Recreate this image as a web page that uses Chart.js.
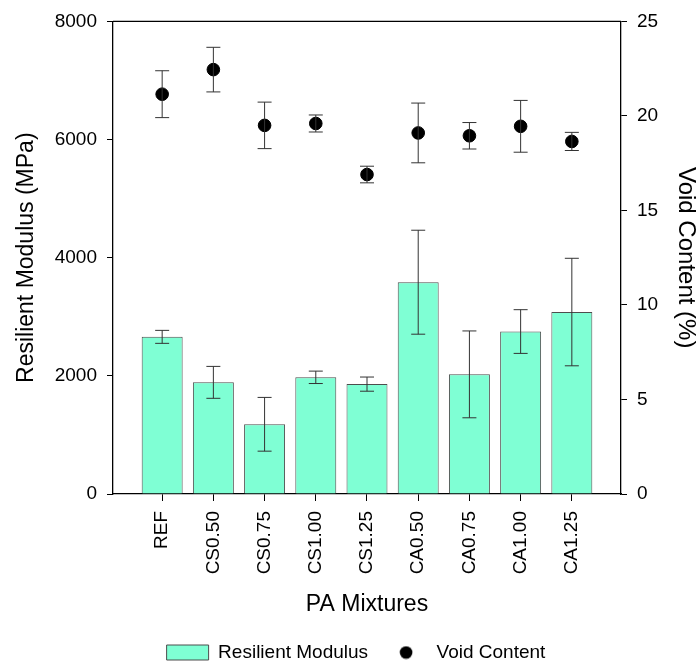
<!DOCTYPE html>
<html>
<head>
<meta charset="utf-8">
<script src="https://cdn.jsdelivr.net/npm/chart.js@4"></script>
<style>
    body { margin: 0; background: #fff; }
</style>
</head>
<body>
<canvas id="chart" width="700" height="666"></canvas>
<script>
const mixtures = ['REF', 'CS0.50', 'CS0.75', 'CS1.00', 'CS1.25', 'CA0.50', 'CA0.75', 'CA1.00', 'CA1.25']
const modulus = [2660, 1890, 1180, 1975, 1860, 3585, 2025, 2750, 3080]
const modulusSd = [110, 270, 455, 105, 120, 880, 735, 370, 910]
const voids = [21.15, 22.45, 19.5, 19.6, 16.9, 19.1, 18.95, 19.45, 18.65]
const voidsSd = [1.24, 1.18, 1.23, 0.45, 0.44, 1.58, 0.7, 1.37, 0.48]
const modulusTicks = [0, 2000, 4000, 6000, 8000]
const voidTicks = [0, 5, 10, 15, 20, 25]

class App {
    constructor() {
        Chart.defaults.font.family = 'Liberation Sans, Arial, sans-serif'
        Chart.defaults.color = '#000'
        const ctx = document.getElementById('chart').getContext('2d')
        this.drawChart(ctx)
    }

    // black dot used as the legend marker of the void series
    makeDot() {
        const c = document.createElement('canvas')
        c.width = 14
        c.height = 14
        const g = c.getContext('2d')
        g.fillStyle = '#000'
        g.beginPath()
        g.arc(7, 7, 6.3, 0, Math.PI * 2)
        g.fill()
        return c
    }

    drawChart(ctx) {
        const dot = this.makeDot()
        const tickFont = { size: 19 }
        const titleFont = { size: 23 }

        const errorBars = {
            id: 'errorBars',
            afterDatasetsDraw(chart) {
                const c = chart.ctx
                const x = chart.scales.x
                const draw = (scale, values, sds) => {
                    values.forEach((v, i) => {
                        const px = x.getPixelForValue(i)
                        const top = scale.getPixelForValue(v + sds[i])
                        const bot = scale.getPixelForValue(v - sds[i])
                        c.beginPath()
                        c.moveTo(px, top)
                        c.lineTo(px, bot)
                        c.moveTo(px - 7, top)
                        c.lineTo(px + 7, top)
                        c.moveTo(px - 7, bot)
                        c.lineTo(px + 7, bot)
                        c.stroke()
                    })
                }
                c.save()
                c.strokeStyle = '#333'
                c.lineWidth = 1
                draw(chart.scales.y, modulus, modulusSd)
                draw(chart.scales.y1, voids, voidsSd)
                c.restore()
            }
        }

        const frameTop = {
            id: 'frameTop',
            afterDraw(chart) {
                const { left, right, top } = chart.chartArea
                const c = chart.ctx
                c.save()
                c.strokeStyle = '#000'
                c.lineWidth = 1.3
                c.beginPath()
                c.moveTo(left, top)
                c.lineTo(right, top)
                c.stroke()
                c.restore()
            }
        }

        const data = {
            datasets: [{
                type: 'line',
                label: 'Void Content',
                data: voids.map((v, i) => ({ x: i, y: v })),
                yAxisID: 'y1',
                showLine: false,
                pointRadius: 6.3,
                pointBackgroundColor: '#000',
                pointBorderColor: '#000',
                borderColor: '#000',
                backgroundColor: '#000',
                order: 1
            }, {
                type: 'bar',
                label: 'Resilient Modulus',
                data: modulus.map((v, i) => ({ x: i, y: v })),
                yAxisID: 'y',
                backgroundColor: '#7fffd4',
                borderColor: '#4d4d4d',
                borderWidth: 1,
                barPercentage: 1,
                categoryPercentage: 0.8,
                order: 2
            }]
        }

        const config = {
            type: 'bar',
            data: data,
            options: {
                responsive: false,
                animation: false,
                layout: { padding: { top: 20, bottom: -6, left: 12, right: 0 } },
                plugins: {
                    tooltip: { enabled: false },
                    legend: {
                        position: 'bottom',
                        reverse: true,
                        labels: {
                            usePointStyle: true,
                            pointStyleWidth: 42,
                            boxHeight: 15,
                            padding: 17,
                            font: { size: 19 },
                            generateLabels(chart) {
                                const items = Chart.defaults.plugins.legend.labels.generateLabels(chart)
                                items.forEach(it => {
                                    it.pointStyle = it.text === 'Void Content' ? dot : 'rect'
                                })
                                return items
                            }
                        }
                    }
                },
                scales: {
                    x: {
                        type: 'linear',
                        min: -0.96,
                        max: 8.96,
                        offset: false,
                        afterBuildTicks: axis => { axis.ticks = mixtures.map((_, i) => ({ value: i })) },
                        afterFit: axis => { axis.height = 132 },
                        ticks: {
                            autoSkip: false,
                            minRotation: 90,
                            maxRotation: 90,
                            padding: 10,
                            font: tickFont,
                            callback: v => mixtures[v]
                        },
                        grid: { display: true, offset: false, drawOnChartArea: false, drawTicks: true, tickLength: 7, color: '#000' },
                        border: { display: true, color: '#000', width: 1.3 },
                        title: { display: true, text: 'PA Mixtures', font: titleFont, padding: { top: 0, bottom: 8 } }
                    },
                    y: {
                        position: 'left',
                        min: 0,
                        max: 8000,
                        afterBuildTicks: axis => { axis.ticks = modulusTicks.map(v => ({ value: v })) },
                        afterFit: axis => { axis.width = 101 },
                        ticks: { padding: 10, font: tickFont, callback: v => String(v) },
                        grid: { drawOnChartArea: false, drawTicks: true, tickLength: 6, color: '#000' },
                        border: { display: true, color: '#000', width: 1.3 },
                        title: { display: true, text: 'Resilient Modulus (MPa)', font: titleFont, padding: { top: 1, bottom: 0 } }
                    },
                    y1: {
                        position: 'right',
                        min: 0,
                        max: 25,
                        afterBuildTicks: axis => { axis.ticks = voidTicks.map(v => ({ value: v })) },
                        afterFit: axis => { axis.width = 79 },
                        ticks: { padding: 10, font: tickFont, callback: v => String(v) },
                        grid: { drawOnChartArea: false, drawTicks: true, tickLength: 6, color: '#000' },
                        border: { display: true, color: '#000', width: 1.3 },
                        title: { display: true, text: 'Void Content (%)', font: { size: 24 }, padding: { top: 0, bottom: 0 } }
                    }
                }
            },
            plugins: [errorBars, frameTop]
        }
        this.myChart = new Chart(ctx, config)
    }
}

window.onload = () => new App()
</script>
</body>
</html>
